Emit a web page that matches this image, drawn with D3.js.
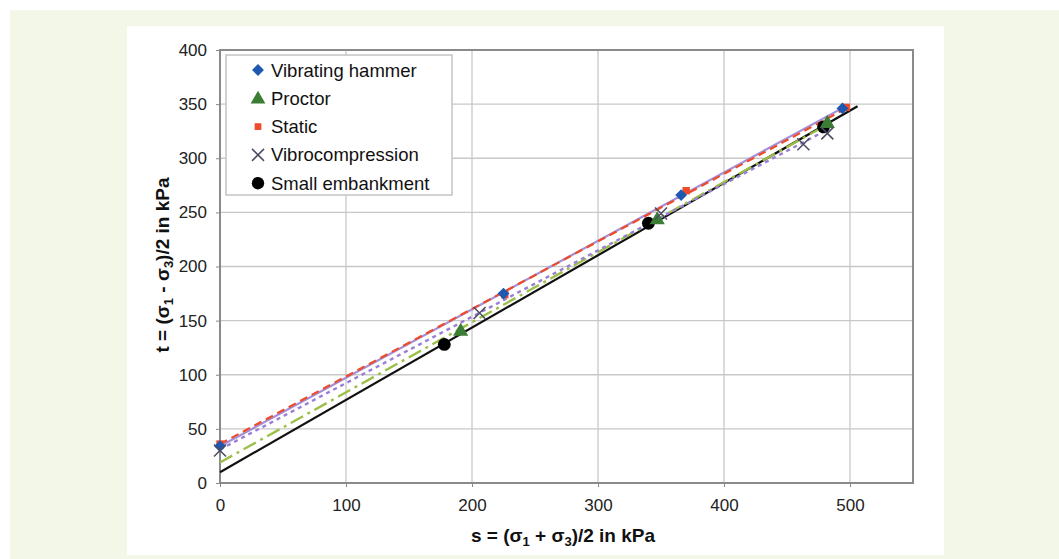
<!DOCTYPE html>
<html>
<head>
<meta charset="utf-8">
<script src="https://cdn.jsdelivr.net/npm/d3@7/dist/d3.min.js"></script>
<style>
  body { margin: 0; background: #fff; }
  text { font-family: "Liberation Sans", Arial, sans-serif; }
</style>
</head>
<body>
<svg width="1059" height="559"></svg>
<script>
// measured points (s, t) in kPa
var hammer = [[0, 34], [225, 175], [366, 266], [494, 346]];
var proctor = [[191, 140], [347, 243], [482, 332]];
var staticPts = [[0, 36], [226, 174], [370, 270], [497, 347]];
var vibro = [[0, 30], [206, 157], [350, 249], [463, 313], [482, 323]];
var embank = [[178, 128], [340, 240], [479, 329]];

// trend lines, end points
var trendHammer = [[0, 34], [495, 347]];
var trendStatic = [[0, 36], [500, 348]];
var trendVibro = [[0, 31], [483, 327]];
var trendProctor = [[0, 19], [485, 333]];
var trendEmbank = [[0, 10], [506, 348]];

var xTicks = [0, 100, 200, 300, 400, 500];
var yTicks = [0, 50, 100, 150, 200, 250, 300, 350, 400];
var legendNames = ['Vibrating hammer', 'Proctor', 'Static', 'Vibrocompression', 'Small embankment'];

var svg = d3.select('svg');

// backgrounds
svg.append('rect').attr('x', 10).attr('y', 10).attr('width', 1049).attr('height', 549).style('fill', '#f3f7e8');
svg.append('rect').attr('x', 127).attr('y', 26).attr('width', 817).attr('height', 529).style('fill', '#fff');

var x = d3.scaleLinear().domain([0, 550]).range([220, 913]);
var y = d3.scaleLinear().domain([0, 400]).range([483, 50]);

// grid
svg.append('g').selectAll('line').data(xTicks.slice(1).concat([550])).enter().append('line')
    .attr('x1', function(d) { return x(d); }).attr('x2', function(d) { return x(d); })
    .attr('y1', y(0)).attr('y2', y(400))
    .style('stroke', '#c8c8c8').style('stroke-width', 1.3);
svg.append('g').selectAll('line').data(yTicks.slice(1)).enter().append('line')
    .attr('x1', x(0)).attr('x2', x(550))
    .attr('y1', function(d) { return y(d); }).attr('y2', function(d) { return y(d); })
    .style('stroke', '#c8c8c8').style('stroke-width', 1.3);

// axes
var xAxis = d3.axisBottom(x).tickValues(xTicks).tickSize(4).tickPadding(12);
var gx = svg.append('g').attr('transform', 'translate(0,' + y(0) + ')').call(xAxis);
var yAxis = d3.axisLeft(y).tickValues(yTicks).tickSize(4).tickPadding(9);
var gy = svg.append('g').attr('transform', 'translate(' + x(0) + ',0)').call(yAxis);
[gx, gy].forEach(function(g) {
    g.select('.domain').remove();
    g.selectAll('line').style('stroke', '#888');
    g.selectAll('text').style('font-size', '17px').style('fill', '#222');
});

// plot border
svg.append('rect').attr('x', x(0)).attr('y', y(400))
    .attr('width', x(550) - x(0)).attr('height', y(0) - y(400))
    .style('fill', 'none').style('stroke', '#8a8a8a').style('stroke-width', 2);

// trend lines
var line = d3.line().x(function(d) { return x(d[0]); }).y(function(d) { return y(d[1]); });
function trend(data, color, width, dash) {
    svg.append('path').datum(data).attr('d', line)
        .style('fill', 'none').style('stroke', color).style('stroke-width', width)
        .style('stroke-dasharray', dash);
}
trend(trendEmbank, '#111', 2.2, null);
trend(trendProctor, '#9cc047', 2.4, '14,5,3,5');
trend(trendVibro, '#9a7fd6', 2.4, '4,4');
trend(trendHammer, '#a48fd8', 2.2, null);
trend(trendStatic, '#ee4b2b', 2.2, '8,5');

// markers
function marks(data, type, size, color, rot) {
    svg.append('g').selectAll('path').data(data).enter().append('path')
        .attr('d', d3.symbol().type(type).size(size)())
        .attr('transform', function(d) { return 'translate(' + x(d[0]) + ',' + y(d[1]) + ')' + (rot || ''); })
        .style('fill', color);
}
function crosses(data) {
    svg.append('g').selectAll('path').data(data).enter().append('path')
        .attr('d', 'M-6,-6L6,6M-6,6L6,-6')
        .attr('transform', function(d) { return 'translate(' + x(d[0]) + ',' + y(d[1]) + ')'; })
        .style('stroke', '#4b4b62').style('stroke-width', 1.5);
}
marks(embank, d3.symbolCircle, 130, '#000');
marks(proctor, d3.symbolTriangle, 100, '#3b7d35');
marks(staticPts, d3.symbolSquare, 55, '#ee4b2b');
marks(hammer, d3.symbolSquare, 70, '#1f58b0', 'rotate(45)');
crosses(vibro);

// legend
var lg = svg.append('g');
lg.append('rect').attr('x', 226).attr('y', 55).attr('width', 226).attr('height', 140)
    .style('fill', '#fff').style('stroke', '#c4c4c4').style('stroke-width', 1.5);
var rowY = function(i) { return 70 + i * 28.3; };
lg.selectAll('text').data(legendNames).enter().append('text')
    .attr('x', 271).attr('y', function(d, i) { return rowY(i) + 6.5; })
    .style('font-size', '18.5px').style('fill', '#111')
    .text(function(d) { return d; });
var lx = 258;
lg.append('path').attr('d', d3.symbol().type(d3.symbolSquare).size(70)()).attr('transform', 'translate(' + lx + ',' + rowY(0) + ')rotate(45)').style('fill', '#1f58b0');
lg.append('path').attr('d', d3.symbol().type(d3.symbolTriangle).size(95)()).attr('transform', 'translate(' + lx + ',' + (rowY(1) + 1) + ')').style('fill', '#3b7d35');
lg.append('path').attr('d', d3.symbol().type(d3.symbolSquare).size(45)()).attr('transform', 'translate(' + lx + ',' + rowY(2) + ')').style('fill', '#ee4b2b');
lg.append('path').attr('d', 'M-6,-6L6,6M-6,6L6,-6').attr('transform', 'translate(' + lx + ',' + rowY(3) + ')').style('stroke', '#4b4b62').style('stroke-width', 1.5);
lg.append('path').attr('d', d3.symbol().type(d3.symbolCircle).size(120)()).attr('transform', 'translate(' + lx + ',' + rowY(4) + ')').style('fill', '#000');

// axis titles
function title(t, parts) {
    parts.forEach(function(p, i) {
        if (i % 2 === 0) t.append('tspan').attr('dy', i ? -4 : 0).text(p);
        else t.append('tspan').attr('dy', 4).style('font-size', '13px').text(p);
    });
}
var xt = svg.append('text').attr('x', 563).attr('y', 542).attr('text-anchor', 'middle')
    .style('font-size', '19px').style('font-weight', 'bold').style('fill', '#111');
title(xt, ['s = (\u03c3', '1', ' + \u03c3', '3', ')/2 in kPa']);

var yt = svg.append('text').attr('transform', 'translate(169,265)rotate(-90)').attr('text-anchor', 'middle')
    .style('font-size', '19px').style('font-weight', 'bold').style('fill', '#111');
title(yt, ['t = (\u03c3', '1', ' - \u03c3', '3', ')/2 in kPa']);
</script>
</body>
</html>
